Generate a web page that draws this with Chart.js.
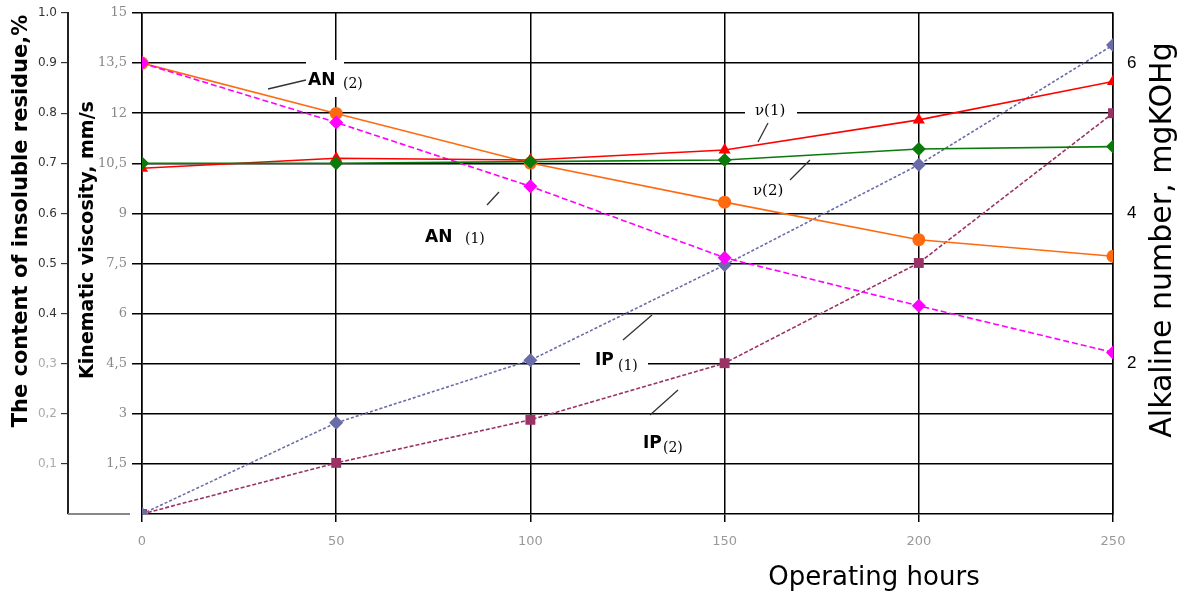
<!DOCTYPE html>
<html>
<head>
<meta charset="utf-8">
<script src="https://cdn.jsdelivr.net/npm/chart.js@4/dist/chart.umd.min.js"></script>
<style>
  html, body { margin: 0; padding: 0; background: #fff; }
  #wrap { width: 1186px; height: 596px; position: relative; }
</style>
</head>
<body>
<div id="wrap"><canvas id="chart-area"></canvas></div>
<script>
"use strict";

// values
const HOURS = [0, 50, 100, 150, 200, 250];
const VISCOSITY_1 = [10.35, 10.65, 10.6, 10.9, 11.8, 12.95];
const VISCOSITY_2 = [10.5, 10.5, 10.55, 10.6, 10.93, 11.0];
const ALKALINE_1 = [6.0, 5.21, 4.36, 3.41, 2.77, 2.15];
const ALKALINE_2 = [6.0, 5.33, 4.67, 4.15, 3.65, 3.43];
const RESIDUE_1 = [0, 0.182, 0.307, 0.497, 0.697, 0.936];
const RESIDUE_2 = [0, 0.102, 0.188, 0.301, 0.501, 0.8];

const HOUR_TICKS = [0, 50, 100, 150, 200, 250];
const VISCOSITY_TICKS = [1.5, 3, 4.5, 6, 7.5, 9, 10.5, 12, 13.5, 15];
const VISCOSITY_LABELS = ["1,5", "3", "4,5", "6", "7,5", "9", "10,5", "12", "13,5", "15"];
const RESIDUE_TICKS = [0.1, 0.2, 0.3, 0.4, 0.5, 0.6, 0.7, 0.8, 0.9, 1.0];
const RESIDUE_LABELS = ["0,1", "0,2", "0,3", "0.4", "0.5", "0.6", "0.7", "0.8", "0.9", "1.0"];
const ALKALINE_TICKS = [2, 4, 6];

const toTicks = arr => arr.map(v => ({ value: v }));

function series(label, data, axis, color, style, dash, radius) {
  return {
    label: label,
    data: data.map((v, i) => ({ x: HOURS[i], y: v })),
    yAxisID: axis,
    borderColor: color,
    backgroundColor: color,
    borderWidth: 1.6,
    borderDash: dash,
    pointStyle: style,
    pointRadius: radius,
    pointBorderWidth: 0,
    tension: 0
  };
}

const notes = {
  id: "notes",
  beforeDatasetsDraw(chart) {
    const c = chart.ctx;
    c.save();
    // gaps in the grid behind labels
    c.fillStyle = "#fff";
    c.fillRect(306, 60, 38, 37);
    c.fillRect(745, 100, 52, 20);
    c.fillRect(580, 347, 68, 26);

    // leader lines
    c.strokeStyle = "#333";
    c.lineWidth = 1.3;
    [[268, 89, 306, 80], [487, 205, 499, 192], [758, 142, 768, 123],
     [790, 180, 810, 160], [623, 340, 652, 315], [650, 415, 678, 390]].forEach(l => {
      c.beginPath();
      c.moveTo(l[0], l[1]);
      c.lineTo(l[2], l[3]);
      c.stroke();
    });

    c.fillStyle = "#000";
    c.textBaseline = "alphabetic";
    c.textAlign = "left";
    c.font = "bold 17px 'DejaVu Sans'";
    c.fillText("AN", 308, 85);
    c.fillText("AN", 425, 242);
    c.fillText("IP", 595, 365);
    c.fillText("IP", 643, 448);
    c.font = "14px 'DejaVu Serif'";
    c.fillText("(2)", 343, 88);
    c.fillText("(1)", 465, 243);
    c.fillText("(1)", 618, 370);
    c.fillText("(2)", 663, 452);
    c.font = "15px 'DejaVu Serif'";
    c.fillText("ν(1)", 755, 115);
    c.fillText("ν(2)", 753, 195);

    // grey stub under the residue axis
    c.strokeStyle = "#888";
    c.lineWidth = 2;
    c.beginPath();
    c.moveTo(68, 514);
    c.lineTo(130, 514);
    c.stroke();
    c.restore();
  },
  afterDraw(chart) {
    const c = chart.ctx;
    c.save();
    c.fillStyle = "#000";
    c.textAlign = "center";
    c.textBaseline = "middle";
    const vertical = (text, x, y, font) => {
      c.save();
      c.translate(x, y);
      c.rotate(-Math.PI / 2);
      c.font = font;
      c.fillText(text, 0, 0);
      c.restore();
    };
    vertical("The content of insoluble residue,%", 22, 221, "bold 21px 'DejaVu Sans'");
    vertical("Kinematic viscosity, mm/s", 88, 240, "bold 19px 'DejaVu Sans'");
    vertical("Alkaline number, mgKOHg", 1163, 240, "30px 'DejaVu Sans'");
    c.font = "26px 'DejaVu Sans'";
    c.fillText("Operating hours", 874, 578);
    c.restore();
  }
};

const config = {
  type: "line",
  data: {
    datasets: [
      series("ν(2)", VISCOSITY_2, "y", "#0a7a0a", "rectRot", [], 7),
      series("ν(1)", VISCOSITY_1, "y", "#ff0000", "triangle", [], 7),
      series("AN(1)", ALKALINE_1, "yAN", "#ff00ff", "rectRot", [6, 3], 7),
      series("AN(2)", ALKALINE_2, "yAN", "#ff6a10", "circle", [], 6.5),
      series("IP(1)", RESIDUE_1, "yRes", "#6a6ca8", "rectRot", [3, 2], 7),
      series("IP(2)", RESIDUE_2, "yRes", "#993366", "rect", [4, 2], 7)
    ]
  },
  options: {
    responsive: true,
    maintainAspectRatio: false,
    animation: false,
    layout: { padding: { top: 13, left: 0, right: 0, bottom: 0 } },
    plugins: {
      legend: { display: false },
      tooltip: { enabled: false }
    },
    scales: {
      x: {
        type: "linear",
        min: 0,
        max: 250,
        afterBuildTicks: s => { s.ticks = toTicks(HOUR_TICKS); },
        afterFit: s => { s.height = 82; },
        grid: { color: "#000", lineWidth: 1.5, tickLength: 8 },
        border: { color: "#000", width: 1.5 },
        ticks: {
          color: "#999",
          padding: 12,
          font: { family: "'DejaVu Sans'", size: 13 },
          maxRotation: 0
        }
      },
      y: {
        position: "left",
        min: 0,
        max: 15,
        weight: 0,
        afterBuildTicks: s => { s.ticks = toTicks(VISCOSITY_TICKS); },
        afterFit: s => { s.width = 74; },
        grid: { color: "#000", lineWidth: 1.5, tickLength: 10 },
        border: { color: "#000", width: 1.5 },
        ticks: {
          color: "#888",
          padding: 5,
          font: { family: "'DejaVu Serif'", size: 13 },
          callback: (v, i) => VISCOSITY_LABELS[i]
        }
      },
      yRes: {
        position: "left",
        min: 0,
        max: 1.0,
        weight: 10,
        afterBuildTicks: s => { s.ticks = toTicks(RESIDUE_TICKS); },
        afterFit: s => { s.width = 68; },
        grid: { drawOnChartArea: false, color: "#333", lineWidth: 1.2, tickLength: 7 },
        border: { color: "#222", width: 2 },
        ticks: {
          color: ctx => (ctx.tick.value < 0.35 ? "#aaa" : "#333"),
          padding: 4,
          font: { family: "'DejaVu Sans'", size: 12 },
          callback: (v, i) => RESIDUE_LABELS[i]
        }
      },
      yAN: {
        position: "right",
        min: 0,
        max: 20 / 3,
        afterBuildTicks: s => { s.ticks = toTicks(ALKALINE_TICKS); },
        afterFit: s => { s.width = 73; },
        grid: { drawOnChartArea: false, tickLength: 14, tickColor: "rgba(0,0,0,0)" },
        border: { color: "#000", width: 1.5 },
        ticks: {
          color: "#000",
          padding: 0,
          font: { family: "'Liberation Sans'", size: 17 }
        }
      }
    }
  },
  plugins: [notes]
};

window.onload = function() {
  const ctx = document.getElementById("chart-area").getContext("2d");
  window.myChart = new Chart(ctx, config);
};
</script>
</body>
</html>
